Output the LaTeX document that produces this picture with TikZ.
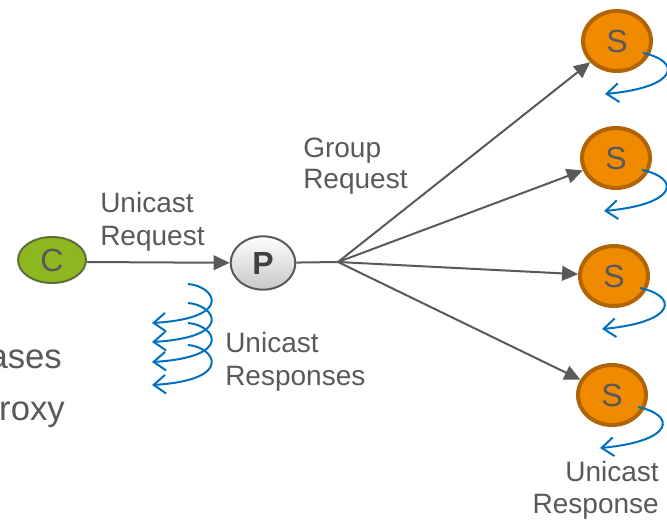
\documentclass[tikz,border=0pt]{standalone}
\usepackage{fontspec}
\setmainfont{Liberation Sans}
\usetikzlibrary{arrows.meta,shapes.geometric,calc}
\definecolor{txt}{HTML}{595959}
\definecolor{cgreen}{HTML}{8CB71E}
\definecolor{cgreenb}{HTML}{5E6E38}
\definecolor{sorange}{HTML}{F08A00}
\definecolor{sorangeb}{HTML}{B06405}
\definecolor{pborder}{HTML}{595959}
\definecolor{blu}{HTML}{0070C0}
\definecolor{arrc}{HTML}{595959}
\begin{document}
\begin{tikzpicture}[x=0.75pt,y=-0.75pt,
 lbl/.style={inner sep=0,font=\fontsize{21}{25}\selectfont,text=txt,anchor=base west},
 lblr/.style={lbl,anchor=base east},
 big/.style={inner sep=0,font=\fontsize{26}{31}\selectfont,text=txt,anchor=base east},
 cnode/.style={ellipse,draw=cgreenb,line width=1.5pt,fill=cgreen,minimum width=51pt,minimum height=34.5pt,inner sep=0,font=\fontsize{24}{24}\selectfont,text=txt},
 pnode/.style={ellipse,draw=pborder,line width=1.5pt,top color=white,bottom color=black!22,minimum width=48.5pt,minimum height=40pt,inner sep=0,font=\bfseries\fontsize{24}{24}\selectfont,text=black!75},
 snode/.style={ellipse,draw=sorangeb,line width=3pt,fill=sorange,minimum width=51pt,minimum height=45pt,inner sep=0,font=\fontsize{24}{24}\selectfont,text=txt},
 flow/.style={draw=arrc,line width=1.5pt},
 flowarr/.style={flow,-{Triangle[length=12pt,width=11pt]}},
 resp/.style={draw=blu,line width=1.5pt,-{Straight Barb[length=9pt,width=14pt]}}
]
\useasboundingbox (0,0) rectangle (667,519);

% nodes
\node[cnode] (C) at (52,260) {C};
\node[pnode] (P) at (263,263) {P};
\node[snode] (S1) at (617,41) {S};
\node[snode] (S2) at (616,158) {S};
\node[snode] (S3) at (614,276) {S};
\node[snode] (S4) at (612,395) {S};
\coordinate (F) at (338,262);

% request arrows
\draw[flowarr] (C.east |- F) -- (P);
\draw[flow] (P) -- (F);
\foreach \s in {S1,S2,S3,S4}{
  \draw[flowarr] (F) -- (\s);
}

% server self responses
\foreach \s in {S1,S2,S3,S4}{
  \coordinate (\s st) at ($(\s)+(26,12)$);
  \coordinate (\s en) at ($(\s)+(-12,53)$);
  \draw[resp] (\s st) .. controls ($(\s st)+(38,8)$) and ($(\s en)+(75,-7)$) .. (\s en);
}

% unicast responses spiral
\foreach \i/\a/\b in {1/284/323, 2/303/342, 3/323/362, 4/345/385}{
  \coordinate (rs\i) at (188,\a);
  \coordinate (re\i) at (152,\b);
  \draw[resp] (rs\i) .. controls ($(rs\i)+(27,2)$) and ($(re\i)+(83,-5)$) .. (re\i);
}

% labels
\node[lbl] (ur1) at (100,212) {Unicast};
\node[lbl] (ur2) at (100,245) {Request};
\node[lbl] (gr1) at (303,157) {Group};
\node[lbl] (gr2) at (303,188) {Request};
\node[lbl] (us1) at (225,352) {Unicast};
\node[lbl] (us2) at (225,385) {Responses};
\node[lblr] (ub1) at (659,481) {Unicast};
\node[lblr] (ub2) at (659,513) {Response};
\node[big] (l1) at (62,368) {ases};
\node[big] (l2) at (65,420) {roxy};
\end{tikzpicture}
\end{document}
